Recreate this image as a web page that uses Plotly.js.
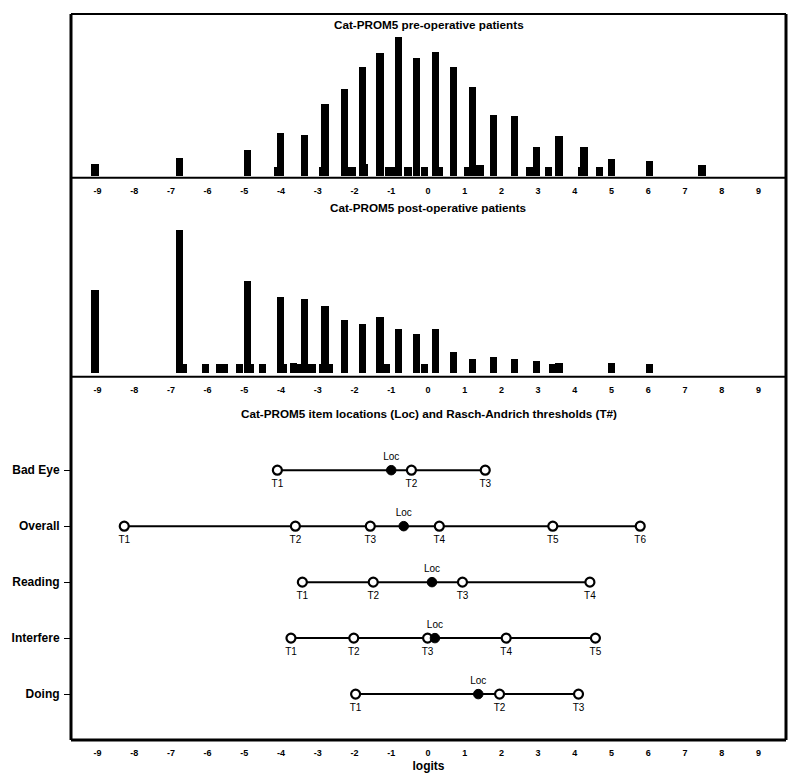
<!DOCTYPE html>
<html>
<head>
<meta charset="utf-8">
<script src="https://cdn.plot.ly/plotly-3.0.1.min.js"></script>
<style>html,body{margin:0;padding:0;background:#fff;}#chart{width:800px;height:783px;}</style>
</head>
<body>
<div id="chart"></div>
<script>
// ---------- data ----------
const tickVals = [-9,-8,-7,-6,-5,-4,-3,-2,-1,0,1,2,3,4,5,6,7,8,9];
const tickLabels = ["-9","-8","-7","-6","-5","-4","-3","-2","-1","0","1","2","3","4","5","6","7","8","9"];

// pre-operative person measures (logit, count)
const preX = [-9.07,-6.77,-4.92,-4.10,-4.01,-3.37,-2.86,-2.80,-2.28,-2.07,-1.79,-1.72,-1.31,-1.06,-1.00,-0.81,-0.54,-0.31,-0.10,0.21,0.30,0.70,1.09,1.22,1.42,1.78,2.35,2.78,2.95,3.28,3.57,4.19,4.25,4.67,4.99,6.04,7.46];
const preCount = [8,12,17,6,28,27,6,47,57,6,71,8,80,6,6,91,6,77,6,81,6,71,6,58,7,40,39,6,19,6,26,6,19,6,11,10,7];

// post-operative person measures (logit, count)
const postX = [-9.07,-6.77,-6.66,-6.05,-5.68,-5.55,-5.14,-4.91,-4.85,-4.50,-4.01,-3.94,-3.66,-3.56,-3.36,-3.16,-2.88,-2.80,-2.68,-2.28,-1.79,-1.31,-1.14,-0.81,-0.31,-0.10,0.21,0.70,1.22,1.78,2.35,2.95,3.39,3.57,4.99,6.04];
const postCount = [47,81,5,5,5,5,5,52,5,5,43,5,6,5,42,5,5,38,5,30,28,32,5,25,22,5,25,12,8,9,8,7,5,6,6,5];

// rug marks under the post-operative axis
const rugX = [-8.27,-4.10,-4.02,-3.71,-3.61,-3.42,-1.98,-1.55,-1.48,-0.98,-0.62,-0.45,0.00,0.06,0.13,0.20,0.30,0.95,0.99,1.37,1.56,1.96,2.01,2.13,3.41,4.10,4.42,4.57,5.78];

// items: location and Rasch-Andrich thresholds
const items = ["Bad Eye","Overall","Reading","Interfere","Doing"];
const itemLoc = [-1.00,-0.66,0.11,0.19,1.37];
const badEyeT = [-4.10,-0.45,1.56];
const overallT = [-8.27,-3.61,-1.57,0.31,3.40,5.78];
const readingT = [-3.42,-1.49,0.94,4.41];
const interfereT = [-3.73,-2.02,-0.01,2.13,4.56];
const doingT = [-1.97,1.95,4.10];
const itemThresholds = [badEyeT, overallT, readingT, interfereT, doingT];

// ---------- traces ----------
const FONT = "Liberation Sans, Arial, sans-serif";
const traces = [];
const CLEAR = 'rgba(0,0,0,0)';

traces.push({type:'bar', x:preX, y:preCount, width:0.2, xaxis:'x3', yaxis:'y3',
  marker:{color:'#000', line:{width:0}}, hoverinfo:'skip'});
traces.push({type:'bar', x:postX, y:postCount, width:0.2, xaxis:'x2', yaxis:'y2',
  marker:{color:'#000', line:{width:0}}, hoverinfo:'skip'});
traces.push({type:'scatter', mode:'markers', x:rugX, y:rugX.map(()=>-3.8), xaxis:'x2', yaxis:'y2',
  cliponaxis:false, marker:{symbol:'line-ns', size:5, color:'#000', line:{color:'#000', width:1}}, hoverinfo:'skip'});

items.forEach((name,i)=>{
  const t = itemThresholds[i];
  const all = t.concat([itemLoc[i]]);
  traces.push({type:'scatter', mode:'lines', x:[Math.min(...all), Math.max(...all)], y:[name,name],
    xaxis:'x', yaxis:'y', line:{color:'#000', width:2}, hoverinfo:'skip'});
  traces.push({type:'scatter', mode:'markers', x:t, y:t.map(()=>name),
    xaxis:'x', yaxis:'y', cliponaxis:false,
    marker:{symbol:'circle', size:9, color:'#fff', line:{color:'#000', width:2.2}}, hoverinfo:'skip'});
  traces.push({type:'scatter', mode:'markers', x:[itemLoc[i]], y:[name],
    xaxis:'x', yaxis:'y', cliponaxis:false,
    marker:{symbol:'circle', size:9.5, color:'#000', line:{color:'#000', width:1}}, hoverinfo:'skip'});
  // labels (invisible markers set the text offset)
  traces.push({type:'scatter', mode:'markers+text', x:t, y:t.map(()=>name),
    text:t.map((v,k)=>'T'+(k+1)), textposition:'bottom center',
    textfont:{family:FONT, size:10, color:'#000'},
    xaxis:'x', yaxis:'y', cliponaxis:false,
    marker:{size:13, color:CLEAR, line:{width:0, color:CLEAR}}, hoverinfo:'skip'});
  traces.push({type:'scatter', mode:'markers+text', x:[itemLoc[i]], y:[name],
    text:['Loc'], textposition:'top center',
    textfont:{family:FONT, size:10, color:'#000'},
    xaxis:'x', yaxis:'y', cliponaxis:false,
    marker:{size:10, color:CLEAR, line:{width:0, color:CLEAR}}, hoverinfo:'skip'});
});

// ---------- layout ----------
const xRange = [-9.72, 9.75];
const xBase = {range:xRange, tickmode:'array', tickvals:tickVals, ticktext:tickLabels,
  ticks:'outside', ticklen:4, tickcolor:'rgba(0,0,0,0)', showgrid:false, zeroline:false, showline:false,
  tickfont:{family:FONT, size:9, color:'#000', weight:'bold'}, fixedrange:true};

const d3 = 0.5004, d2 = 0.7745;
const TF = {family:FONT, size:11.7, color:'#000', weight:'bold'};
const layout = {
  width:800, height:783,
  margin:{l:71, r:14, t:14, b:43},
  paper_bgcolor:'#fff', plot_bgcolor:'#fff',
  showlegend:false, barmode:'overlay', bargap:0,
  font:{family:FONT, color:'#000'},
  xaxis: Object.assign({}, xBase, {anchor:'y',
    title:{text:'logits', font:{family:FONT, size:12, color:'#000', weight:'bold'}, standoff:4}}),
  xaxis2: Object.assign({}, xBase, {anchor:'y2'}),
  xaxis3: Object.assign({}, xBase, {anchor:'y3'}),
  yaxis:{domain:[0,d3], type:'category', categoryorder:'array', categoryarray:items.slice().reverse(),
    range:[-0.82,5.67], ticks:'outside', ticklen:6, tickwidth:1, tickcolor:'#000', ticklabelstandoff:2,
    showgrid:false, zeroline:false, showline:false,
    tickfont:{family:FONT, size:12, color:'#000', weight:'bold'}, fixedrange:true},
  yaxis2:{domain:[d3,d2], range:[-1.92,110.7], showticklabels:false, ticks:'', showgrid:false, zeroline:false, showline:false, fixedrange:true},
  yaxis3:{domain:[d2,1], range:[-1.11,105.7], showticklabels:false, ticks:'', showgrid:false, zeroline:false, showline:false, fixedrange:true},
  annotations:[
    {text:'Cat-PROM5 pre-operative patients', xref:'paper', yref:'paper', x:0.5, y:0.985, showarrow:false,
     xanchor:'center', yanchor:'middle', font:TF},
    {text:'Cat-PROM5 post-operative patients', xref:'paper', yref:'paper', x:0.5, y:0.734, showarrow:false,
     xanchor:'center', yanchor:'middle', font:TF},
    {text:'Cat-PROM5 item locations (Loc) and Rasch-Andrich thresholds (T#)', xref:'paper', yref:'paper', x:0.5, y:0.4504, showarrow:false,
     xanchor:'center', yanchor:'middle', font:TF}
  ],
  shapes:[
    {type:'line', xref:'paper', yref:'paper', x0:0, x1:1, y0:1, y1:1, line:{color:'#000', width:2}},
    {type:'line', xref:'paper', yref:'paper', x0:0, x1:0, y0:0, y1:1, line:{color:'#000', width:3}},
    {type:'line', xref:'paper', yref:'paper', x0:1, x1:1, y0:0, y1:1, line:{color:'#000', width:3}},
    {type:'line', xref:'paper', yref:'paper', x0:0, x1:1, y0:0, y1:0, line:{color:'#000', width:3}},
    {type:'line', xref:'paper', yref:'paper', x0:0, x1:1, y0:d2, y1:d2, line:{color:'#000', width:2}},
    {type:'line', xref:'paper', yref:'paper', x0:0, x1:1, y0:d3, y1:d3, line:{color:'#000', width:2}}
  ]
};

Plotly.newPlot('chart', traces, layout, {staticPlot:true, displayModeBar:false});
</script>
</body>
</html>
